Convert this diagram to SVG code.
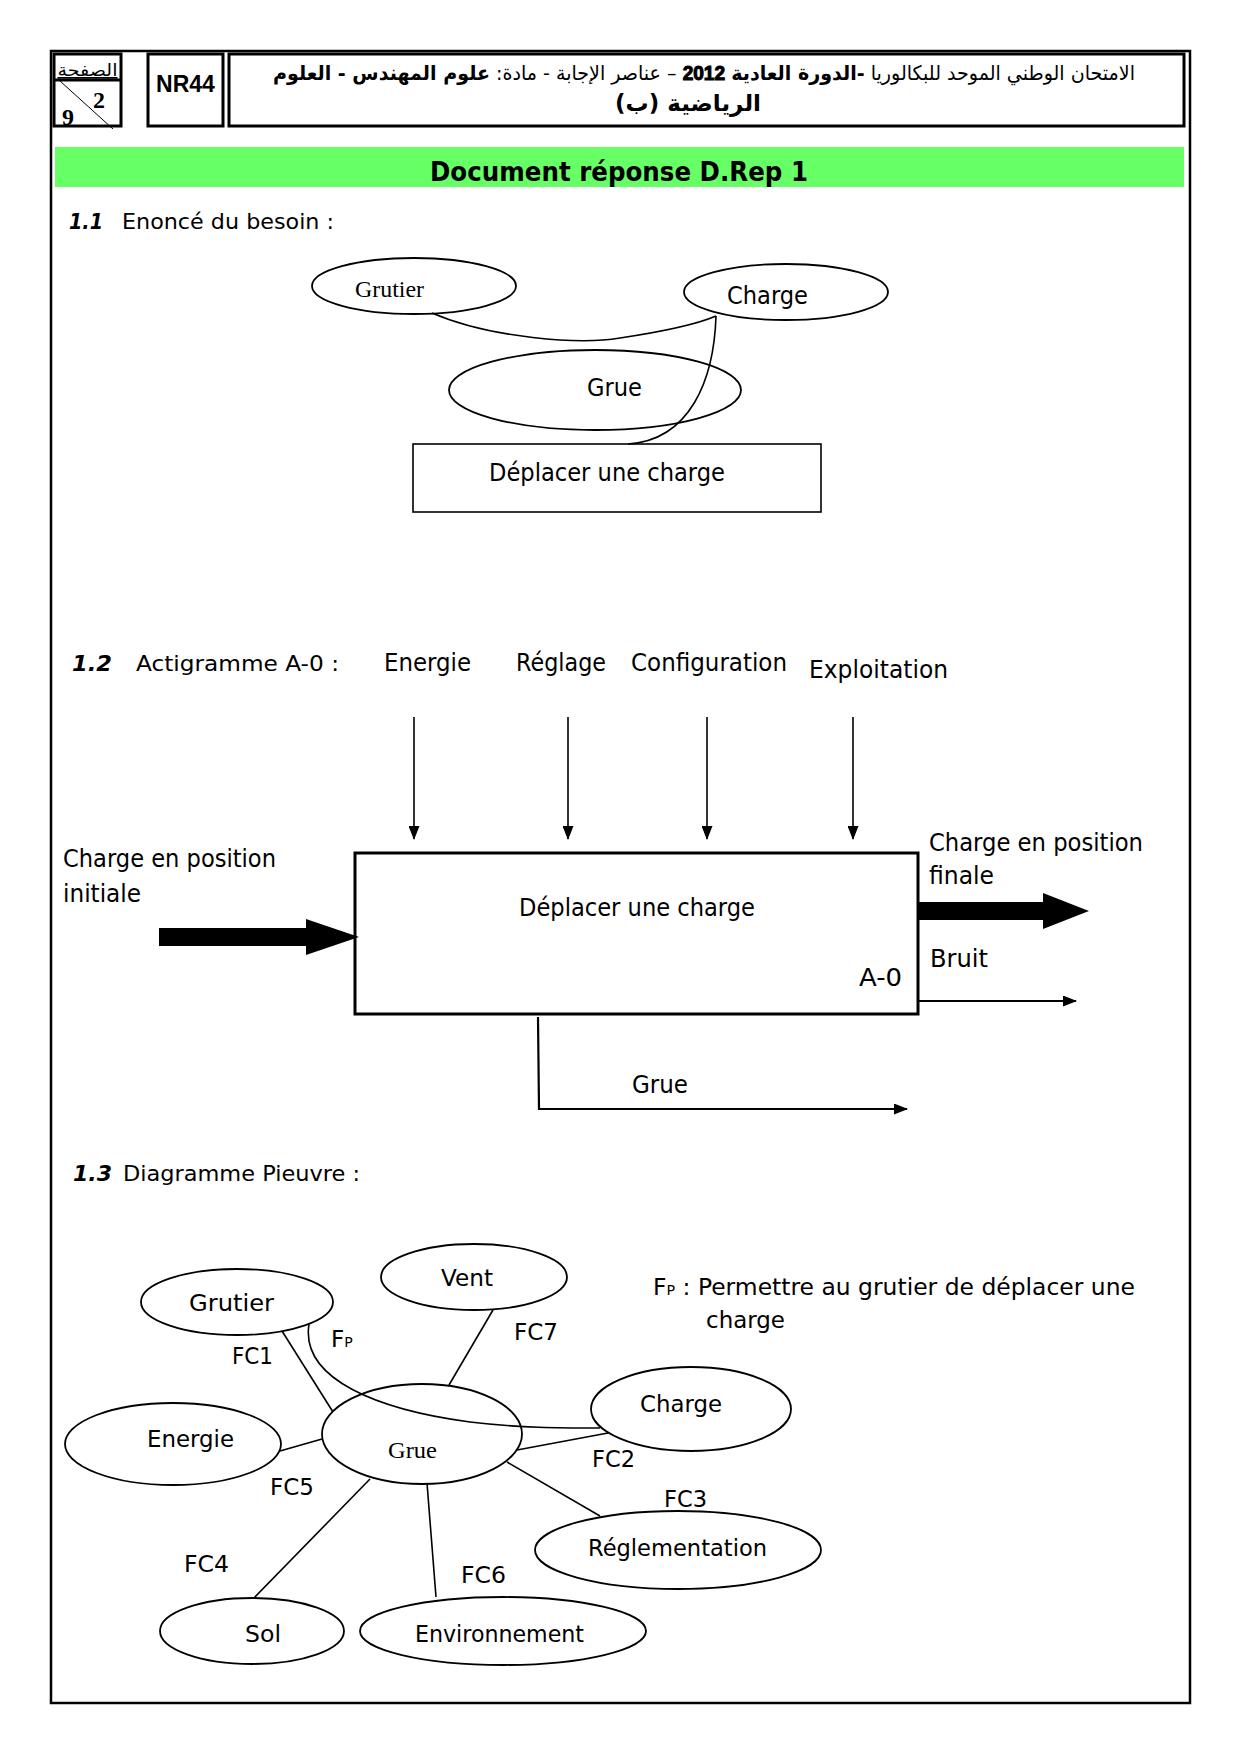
<svg xmlns="http://www.w3.org/2000/svg" width="1240" height="1754" viewBox="0 0 1240 1754">
<style>
.t{font-family:"DejaVu Sans","Liberation Sans",sans-serif;fill:#000}
.tr{font-family:"Liberation Serif","DejaVu Serif",serif;fill:#000}
.ar{font-family:"DejaVu Sans",sans-serif;fill:#000}
.b{fill:none;stroke:#000;stroke-width:3}
.e{fill:none;stroke:#000;stroke-width:1.8}
.c{fill:none;stroke:#000;stroke-width:1.6}
.h{font-weight:bold;font-style:italic}
</style>
<defs>
<marker id="ah" markerUnits="userSpaceOnUse" markerWidth="14" markerHeight="11" refX="13" refY="5.5" orient="auto"><path d="M0,0 L14,5.5 L0,11 z" fill="#000"/></marker>
</defs>
<rect x="0" y="0" width="1240" height="1754" fill="#fff"/>
<rect x="51" y="51" width="1139" height="1652" fill="none" stroke="#000" stroke-width="2.5"/>

<g id="header">
<rect x="54" y="54" width="67" height="72" class="b"/>
<line x1="54" y1="80" x2="121" y2="80" stroke="#000" stroke-width="3"/>
<text x="87.5" y="76" class="ar" font-size="17" text-anchor="middle" text-decoration="underline" textLength="60" lengthAdjust="spacingAndGlyphs">الصفحة</text>
<line x1="60" y1="81" x2="113" y2="129" stroke="#000" stroke-width="1"/>
<text x="93" y="108" class="tr" font-size="24" font-weight="bold">2</text>
<text x="62" y="125" class="tr" font-size="24" font-weight="bold">9</text>
<rect x="148" y="54" width="75" height="72" class="b"/>
<text x="185.5" y="92" font-family="Liberation Sans, Arial, sans-serif" font-size="23" font-weight="bold" text-anchor="middle">NR44</text>
<rect x="229" y="54" width="955" height="72" class="b"/>
<g transform="translate(0,80) scale(1,1.18)">
<text x="704" y="0" class="ar" font-size="17" direction="rtl" text-anchor="middle" textLength="862" lengthAdjust="spacingAndGlyphs">الامتحان الوطني الموحد للبكالوريا <tspan font-weight="bold">-الدورة العادية</tspan> <tspan font-weight="900" font-family="Liberation Sans, sans-serif" stroke="#000" stroke-width="0.9">2012</tspan> – عناصر الإجابة - مادة: <tspan font-weight="bold">علوم المهندس - العلوم</tspan></text>
</g>
<text x="688" y="111" class="ar" font-size="23" font-weight="bold" direction="rtl" text-anchor="middle">الرياضية (ب)</text>
</g>

<g id="title">
<rect x="55" y="147" width="1129" height="40" fill="#66ff66"/>
<text x="430" y="181" class="t" font-size="26" font-weight="bold" textLength="378" lengthAdjust="spacingAndGlyphs">Document réponse D.Rep 1</text>
</g>

<g id="sec11">
<text x="69" y="229" class="t h" font-size="21" textLength="34" lengthAdjust="spacingAndGlyphs">1.1</text>
<text x="122" y="229" class="t" font-size="22" textLength="212" lengthAdjust="spacingAndGlyphs">Enoncé du besoin :</text>
<g id="b-grutier"><ellipse cx="414" cy="286" rx="102" ry="28" class="e"/><text x="355" y="297" class="tr" font-size="23" textLength="69" lengthAdjust="spacingAndGlyphs">Grutier</text></g>
<g id="b-charge"><ellipse cx="786" cy="292" rx="102" ry="28" class="e"/><text x="727" y="304" class="t" font-size="24" textLength="81" lengthAdjust="spacingAndGlyphs">Charge</text></g>
<g id="b-grue"><ellipse cx="595" cy="390" rx="146" ry="40" class="e"/><text x="587" y="396" class="t" font-size="24" textLength="55" lengthAdjust="spacingAndGlyphs">Grue</text></g>
<g id="b-fonction"><rect x="413" y="444" width="408" height="68" fill="none" stroke="#000" stroke-width="1.6"/><text x="489" y="481" class="t" font-size="24" textLength="236" lengthAdjust="spacingAndGlyphs">Déplacer une charge</text></g>
</g>

<g id="sec11-connectors">
<path d="M432,313 C490,338 580,345 620,338 C660,332 695,325 716,316" class="c"/>
<path d="M716,316 C714,380 690,440 628,444" class="c"/>
</g>

<g id="sec12">
<text x="72" y="671" class="t h" font-size="21" textLength="40" lengthAdjust="spacingAndGlyphs">1.2</text>
<text x="136" y="671" class="t" font-size="22" textLength="203" lengthAdjust="spacingAndGlyphs">Actigramme A-0 :</text>
<text x="384" y="671" class="t" font-size="24" textLength="87" lengthAdjust="spacingAndGlyphs">Energie</text>
<text x="516" y="671" class="t" font-size="24" textLength="90" lengthAdjust="spacingAndGlyphs">Réglage</text>
<text x="631" y="671" class="t" font-size="24" textLength="156" lengthAdjust="spacingAndGlyphs">Configuration</text>
<text x="809" y="678" class="t" font-size="24" textLength="139" lengthAdjust="spacingAndGlyphs">Exploitation</text>
<g id="a0-box"><rect x="355" y="853" width="563" height="161" class="b"/>
<text x="519" y="916" class="t" font-size="24" textLength="236" lengthAdjust="spacingAndGlyphs">Déplacer une charge</text>
<text x="859" y="986" class="t" font-size="24" textLength="43" lengthAdjust="spacingAndGlyphs">A-0</text></g>
<text x="63" y="867" class="t" font-size="24" textLength="213" lengthAdjust="spacingAndGlyphs">Charge en position</text>
<text x="63" y="902" class="t" font-size="24" textLength="78" lengthAdjust="spacingAndGlyphs">initiale</text>
<text x="929" y="851" class="t" font-size="24" textLength="214" lengthAdjust="spacingAndGlyphs">Charge en position</text>
<text x="929" y="884" class="t" font-size="24" textLength="65" lengthAdjust="spacingAndGlyphs">finale</text>
<text x="930" y="967" class="t" font-size="24" textLength="58" lengthAdjust="spacingAndGlyphs">Bruit</text>
<text x="632" y="1093" class="t" font-size="24" textLength="56" lengthAdjust="spacingAndGlyphs">Grue</text>
</g>

<g id="sec12-connectors">
<line x1="414" y1="717" x2="414" y2="839" class="c" marker-end="url(#ah)"/>
<line x1="568" y1="717" x2="568" y2="839" class="c" marker-end="url(#ah)"/>
<line x1="707" y1="717" x2="707" y2="839" class="c" marker-end="url(#ah)"/>
<line x1="853" y1="717" x2="853" y2="839" class="c" marker-end="url(#ah)"/>
<polygon points="159,928 306,928 306,919 359,937 306,955 306,946 159,946" fill="#000"/>
<polygon points="918,902 1043,902 1043,893 1089,911 1043,929 1043,920 918,920" fill="#000"/>
<line x1="918" y1="1001" x2="1076" y2="1001" stroke="#000" stroke-width="2.2" marker-end="url(#ah)"/>
<path d="M538,1017 L539,1109 L907,1109" fill="none" stroke="#000" stroke-width="2.2" marker-end="url(#ah)"/>
</g>

<g id="sec13">
<text x="73" y="1181" class="t h" font-size="21" textLength="39" lengthAdjust="spacingAndGlyphs">1.3</text>
<text x="123" y="1181" class="t" font-size="22" textLength="237" lengthAdjust="spacingAndGlyphs">Diagramme Pieuvre :</text>
<text x="653" y="1295" class="t" font-size="23" textLength="482" lengthAdjust="spacingAndGlyphs">F<tspan font-size="14">P</tspan> : Permettre au grutier de déplacer une</text>
<text x="706" y="1328" class="t" font-size="23" textLength="79" lengthAdjust="spacingAndGlyphs">charge</text>
<g id="p-grutier"><ellipse cx="237" cy="1302" rx="96" ry="33" class="e"/><text x="189" y="1311" class="t" font-size="23" textLength="85" lengthAdjust="spacingAndGlyphs">Grutier</text></g>
<g id="p-vent"><ellipse cx="474" cy="1277" rx="93" ry="33" class="e"/><text x="441" y="1286" class="t" font-size="23" textLength="52" lengthAdjust="spacingAndGlyphs">Vent</text></g>
<g id="p-energie"><ellipse cx="173" cy="1444" rx="108" ry="41" class="e"/><text x="147" y="1447" class="t" font-size="23" textLength="87" lengthAdjust="spacingAndGlyphs">Energie</text></g>
<g id="p-grue"><ellipse cx="422" cy="1434" rx="100" ry="50" class="e"/><text x="388" y="1458" class="tr" font-size="23" textLength="49" lengthAdjust="spacingAndGlyphs">Grue</text></g>
<g id="p-charge"><ellipse cx="691" cy="1409" rx="100" ry="42" class="e"/><text x="640" y="1412" class="t" font-size="23" textLength="82" lengthAdjust="spacingAndGlyphs">Charge</text></g>
<g id="p-reglementation"><ellipse cx="678" cy="1550" rx="143" ry="39" class="e"/><text x="588" y="1556" class="t" font-size="23" textLength="179" lengthAdjust="spacingAndGlyphs">Réglementation</text></g>
<g id="p-sol"><ellipse cx="252" cy="1631" rx="92" ry="33" class="e"/><text x="245" y="1642" class="t" font-size="23" textLength="36" lengthAdjust="spacingAndGlyphs">Sol</text></g>
<g id="p-environnement"><ellipse cx="503" cy="1631" rx="143" ry="34" class="e"/><text x="415" y="1642" class="t" font-size="23" textLength="169" lengthAdjust="spacingAndGlyphs">Environnement</text></g>
</g>

<g id="sec13-connectors">
<line x1="282" y1="1331" x2="333" y2="1412" class="c"/>
<path d="M309,1324 C300,1380 380,1410 470,1422 C520,1428 560,1428 600,1428" class="c"/>
<line x1="493" y1="1310" x2="449" y2="1385" class="c"/>
<line x1="280" y1="1451" x2="322" y2="1439" class="c"/>
<line x1="517" y1="1450" x2="608" y2="1433" class="c"/>
<line x1="507" y1="1462" x2="600" y2="1516" class="c"/>
<line x1="370" y1="1479" x2="254" y2="1598" class="c"/>
<line x1="427" y1="1483" x2="436" y2="1597" class="c"/>
<text x="232" y="1364" class="t" font-size="23" textLength="41" lengthAdjust="spacingAndGlyphs">FC1</text>
<text x="331" y="1347" class="t" font-size="23">F<tspan font-size="14">P</tspan></text>
<text x="514" y="1340" class="t" font-size="23" textLength="44" lengthAdjust="spacingAndGlyphs">FC7</text>
<text x="592" y="1467" class="t" font-size="23" textLength="43" lengthAdjust="spacingAndGlyphs">FC2</text>
<text x="270" y="1495" class="t" font-size="23" textLength="44" lengthAdjust="spacingAndGlyphs">FC5</text>
<text x="664" y="1507" class="t" font-size="23" textLength="43" lengthAdjust="spacingAndGlyphs">FC3</text>
<text x="184" y="1572" class="t" font-size="23" textLength="45" lengthAdjust="spacingAndGlyphs">FC4</text>
<text x="461" y="1583" class="t" font-size="23" textLength="45" lengthAdjust="spacingAndGlyphs">FC6</text>
</g>
</svg>
